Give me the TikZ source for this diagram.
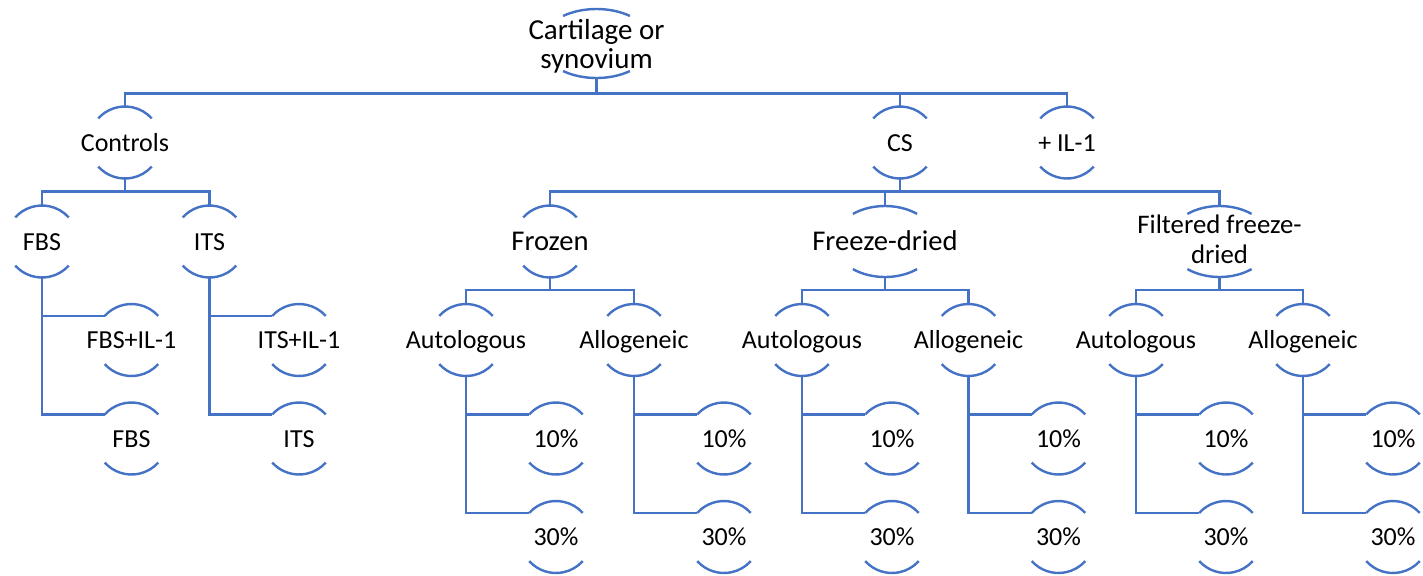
\documentclass[tikz,border=0pt]{standalone}
\usepackage{fontspec}
\setmainfont{Carlito}
\usetikzlibrary{shapes.geometric}
\definecolor{linkblue}{HTML}{4472C4}

% Top and bottom arcs framing a node: #1 name, #2 arc end angle, #3/#4 radii
\newcommand\caparcs[4]{%
  \draw[link] (#1.center) ++(180-#2:#3 and #4)
    arc[start angle=180-#2, end angle=#2, x radius=#3, y radius=#4];
  \draw[link] (#1.center) ++(180+#2:#3 and #4)
    arc[start angle=180+#2, end angle=360-#2, x radius=#3, y radius=#4];
}

\tikzset{
  link/.style={draw=linkblue, line width=1.2pt},
  ring/.style={circle, minimum size=36pt, inner sep=0pt, outer sep=0pt},
  flat/.style={ellipse, minimum width=51pt, minimum height=35.5pt, inner sep=0pt, outer sep=0pt},
  crown/.style={ellipse, minimum width=55.5pt, minimum height=34.5pt, inner sep=0pt, outer sep=0pt},
  lbl/.style={font=\fontsize{13}{15}\selectfont, align=center, inner sep=0pt, anchor=base},
  lblm/.style={font=\fontsize{13}{15}\selectfont, align=center, inner sep=0pt, anchor=center},
  big/.style={font=\fontsize{14.3}{15}\selectfont},
}

\begin{document}
\begin{tikzpicture}[x=0.5pt, y=0.5pt]
\useasboundingbox (0,0) rectangle (1423,-575);

% frame nodes
\node[crown] (top) at (596.5,-43.5) {};
\node[ring] (ctrl) at (125,-142.5) {};
\node[ring] (cs) at (900,-142.5) {};
\node[ring] (il) at (1067,-142.5) {};
\node[ring] (fbs) at (42,-241.5) {};
\node[ring] (its) at (209.5,-241.5) {};
\node[ring] (frz) at (550,-241.5) {};
\node[flat] (fd) at (885,-241.5) {};
\node[flat] (ffd) at (1219.5,-241.5) {};
\node[ring] (fbsil) at (131.5,-340) {};
\node[ring] (fbs2) at (131.5,-438.5) {};
\node[ring] (itsil) at (299,-340) {};
\node[ring] (its2) at (299,-438.5) {};
\foreach \n/\x in {frzA/466, frzB/634, fdA/802, fdB/968.5, ffdA/1136, ffdB/1303} {
  \node[ring] (\n) at (\x,-340) {};
  \node[ring] (\n-10) at (\x+90,-438.5) {};
  \node[ring] (\n-30) at (\x+90,-537) {};
}

% labels
\node[lblm, font=\fontsize{14.5}{14.5}\selectfont] (top-t) at (596.5,-46) {Cartilage or\\synovium};
\node[lbl] (ctrl-t) at ([yshift=-4.25pt]ctrl.center) {Controls};
\node[lbl] (cs-t) at ([yshift=-4.25pt]cs.center) {CS};
\node[lbl] (il-t) at ([yshift=-4.25pt]il.center) {+ IL-1};
\node[lbl] (fbs-t) at ([yshift=-4.25pt]fbs.center) {FBS};
\node[lbl] (its-t) at ([yshift=-4.25pt]its.center) {ITS};
\node[lbl, big] (frz-t) at ([yshift=-4.5pt]frz.center) {Frozen};
\node[lbl, big] (fd-t) at ([yshift=-4.5pt]fd.center) {Freeze-dried};
\node[lblm, font=\fontsize{13.4}{15}\selectfont] (ffd-t) at (1219.5,-239.5) {Filtered freeze-\\dried};
\node[lbl] (fbsil-t) at ([yshift=-4.25pt]fbsil.center) {FBS+IL-1};
\node[lbl] (fbs2-t) at ([yshift=-4.25pt]fbs2.center) {FBS};
\node[lbl] (itsil-t) at ([yshift=-4.25pt]itsil.center) {ITS+IL-1};
\node[lbl] (its2-t) at ([yshift=-4.25pt]its2.center) {ITS};
\foreach \n/\t in {frzA/Autologous, frzB/Allogeneic, fdA/Autologous, fdB/Allogeneic, ffdA/Autologous, ffdB/Allogeneic} {
  \node[lbl] (\n-t) at ([yshift=-4.25pt]\n.center) {\t};
  \node[lbl] (\n-10-t) at ([yshift=-4.25pt]\n-10.center) {10\%};
  \node[lbl] (\n-30-t) at ([yshift=-4.25pt]\n-30.center) {30\%};
}

% arcs
\caparcs{top}{53}{27.75pt}{17.25pt}
\caparcs{fd}{51}{25.5pt}{17.75pt}
\caparcs{ffd}{51}{25.5pt}{17.75pt}
\foreach \n in {ctrl,cs,il,fbs,its,frz,fbsil,fbs2,itsil,its2} {\caparcs{\n}{42}{18pt}{18pt}}
\foreach \n in {frzA,frzB,fdA,fdB,ffdA,ffdB} {
  \caparcs{\n}{42}{18pt}{18pt}
  \caparcs{\n-10}{42}{18pt}{18pt}
  \caparcs{\n-30}{42}{18pt}{18pt}
}

% bus levels
\coordinate (bus0) at (0,-93.5);
\coordinate (bus1) at (0,-191.5);
\coordinate (bus2) at (0,-290);

% connectors
\foreach \c in {ctrl,cs,il} {\draw[link] (top.south) -- (top.south |- bus0) -| (\c.north);}
\foreach \c in {fbs,its} {\draw[link] (ctrl.south) -- (ctrl.south |- bus1) -| (\c.north);}
\foreach \c in {frz,fd,ffd} {\draw[link] (cs.south) -- (cs.south |- bus1) -| (\c.north);}
\foreach \p/\a/\b in {frz/frzA/frzB, fd/fdA/fdB, ffd/ffdA/ffdB} {
  \draw[link] (\p.south) -- (\p.south |- bus2) -| (\a.north);
  \draw[link] (\p.south) -- (\p.south |- bus2) -| (\b.north);
}
\draw[link] (fbs.south) |- (fbsil.138);
\draw[link] (fbs.south) |- (fbs2.138);
\draw[link] (its.south) |- (itsil.138);
\draw[link] (its.south) |- (its2.138);
\foreach \n in {frzA,frzB,fdA,fdB,ffdA,ffdB} {
  \draw[link] (\n.south) |- (\n-10.138);
  \draw[link] (\n.south) |- (\n-30.138);
}
\end{tikzpicture}
\end{document}
